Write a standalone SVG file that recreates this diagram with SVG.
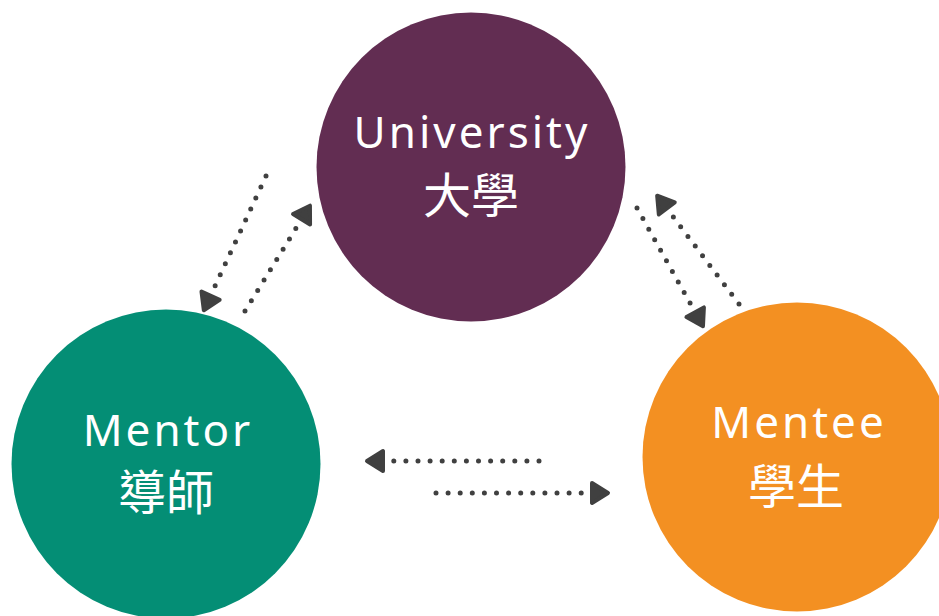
<svg xmlns="http://www.w3.org/2000/svg" width="939" height="616" viewBox="0 0 939 616">
  <style>
    .lat { font-family: "Noto Sans", "Open Sans", sans-serif; font-size: 44px; fill: #ffffff; text-anchor: middle; letter-spacing: 3px; }
    .cjk { font-family: "Noto Sans CJK TC", "Noto Sans CJK SC", sans-serif; font-size: 48px; fill: #ffffff; text-anchor: middle; }
    .dot { fill: none; stroke: #404040; stroke-width: 5; stroke-linecap: round; stroke-dasharray: 0 12.1; marker-end: url(#head); }
  </style>
  <defs>
    <marker id="head" markerUnits="userSpaceOnUse" viewBox="0 0 22 26" markerWidth="22" markerHeight="26" refX="1" refY="13" orient="auto">
      <path d="M3,3 L19,13 L3,23 Z" fill="#404040" stroke="#404040" stroke-width="4" stroke-linejoin="round"/>
    </marker>
  </defs>
  <rect width="939" height="616" fill="#ffffff"/>
  <g id="university">
    <circle cx="471" cy="167" r="154.5" fill="#622d52"/>
    <text class="lat" x="472" y="148">University</text>
    <text class="cjk" x="471" y="213">大學</text>
  </g>
  <g id="mentor">
    <circle cx="166" cy="464" r="154.5" fill="#048e75"/>
    <text class="lat" x="168" y="446">Mentor</text>
    <text class="cjk" x="166" y="510">導師</text>
  </g>
  <g id="mentee">
    <circle cx="797" cy="457" r="154.5" fill="#f39022"/>
    <text class="lat" x="799" y="438">Mentee</text>
    <text class="cjk" x="796" y="504">學生</text>
  </g>
  <g id="connectors">
    <line class="dot" x1="266" y1="176" x2="211.4" y2="293.9"/>
    <line class="dot" x1="245" y1="311" x2="300.5" y2="221"/>
    <line class="dot" x1="637" y1="208" x2="694.2" y2="310.5"/>
    <line class="dot" x1="739" y1="304" x2="668" y2="210"/>
    <line class="dot" x1="539" y1="461" x2="385" y2="461"/>
    <line class="dot" x1="436" y1="493" x2="590" y2="493"/>
  </g>
</svg>
